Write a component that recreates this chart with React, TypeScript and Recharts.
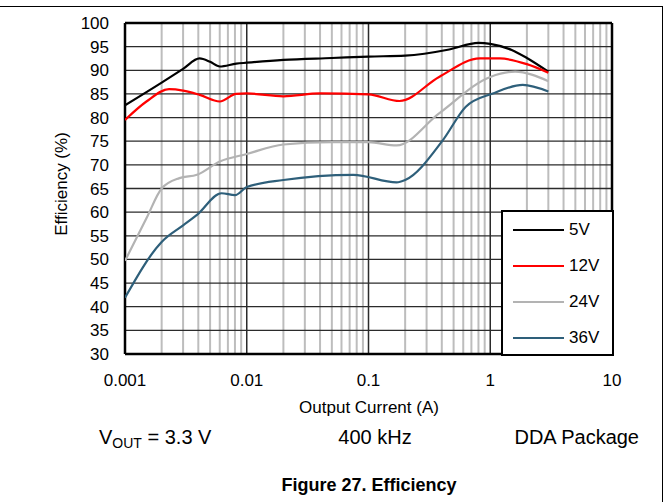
import { LineChart, Line, XAxis, YAxis, ReferenceLine } from "recharts";

const FONT = '"Liberation Sans", Arial, Helvetica, sans-serif';

// output current (A) vs efficiency (%) per input voltage
const v5 = [
  { i: 0.001, e: 82.6 },
  { i: 0.002, e: 87.4 },
  { i: 0.003, e: 90.3 },
  { i: 0.0041, e: 92.5 },
  { i: 0.005, e: 91.8 },
  { i: 0.006, e: 90.8 },
  { i: 0.0082, e: 91.4 },
  { i: 0.01, e: 91.6 },
  { i: 0.02, e: 92.2 },
  { i: 0.05, e: 92.6 },
  { i: 0.1, e: 92.9 },
  { i: 0.2, e: 93.1 },
  { i: 0.46, e: 94.4 },
  { i: 0.8, e: 95.8 },
  { i: 1.0, e: 95.6 },
  { i: 1.5, e: 94.3 },
  { i: 2.0, e: 92.6 },
  { i: 3.0, e: 89.7 },
];

const v12 = [
  { i: 0.001, e: 79.5 },
  { i: 0.0015, e: 83.4 },
  { i: 0.0023, e: 86.0 },
  { i: 0.003, e: 85.7 },
  { i: 0.0041, e: 84.8 },
  { i: 0.006, e: 83.4 },
  { i: 0.0082, e: 85.0 },
  { i: 0.01, e: 85.1 },
  { i: 0.02, e: 84.5 },
  { i: 0.04, e: 85.1 },
  { i: 0.1, e: 84.9 },
  { i: 0.18, e: 83.5 },
  { i: 0.38, e: 88.6 },
  { i: 0.82, e: 92.5 },
  { i: 1.2, e: 92.5 },
  { i: 2.0, e: 91.3 },
  { i: 3.0, e: 89.5 },
];

const v24 = [
  { i: 0.001, e: 49.7 },
  { i: 0.0015, e: 58.7 },
  { i: 0.002, e: 65.0 },
  { i: 0.0028, e: 67.2 },
  { i: 0.0039, e: 67.9 },
  { i: 0.006, e: 70.7 },
  { i: 0.01, e: 72.3 },
  { i: 0.02, e: 74.3 },
  { i: 0.05, e: 74.8 },
  { i: 0.1, e: 74.8 },
  { i: 0.17, e: 74.1 },
  { i: 0.38, e: 80.9 },
  { i: 1.0, e: 88.6 },
  { i: 1.6, e: 89.7 },
  { i: 3.0, e: 87.7 },
];

const v36 = [
  { i: 0.001, e: 41.9 },
  { i: 0.002, e: 53.7 },
  { i: 0.003, e: 57.2 },
  { i: 0.0039, e: 59.4 },
  { i: 0.0062, e: 64.0 },
  { i: 0.008, e: 63.6 },
  { i: 0.01, e: 65.3 },
  { i: 0.02, e: 66.8 },
  { i: 0.075, e: 67.9 },
  { i: 0.17, e: 66.3 },
  { i: 0.2, e: 66.8 },
  { i: 0.41, e: 75.3 },
  { i: 0.63, e: 82.3 },
  { i: 1.05, e: 85.1 },
  { i: 1.85, e: 86.9 },
  { i: 3.0, e: 85.5 },
];

const series = [
  { name: "5V", data: v5, color: "#000000" },
  { name: "12V", data: v12, color: "#ff0000" },
  { name: "24V", data: v24, color: "#b3b3b3" },
  { name: "36V", data: v36, color: "#2e5f7a" },
];

const xTicks = [0.001, 0.01, 0.1, 1, 10];
const yTicks = [30, 35, 40, 45, 50, 55, 60, 65, 70, 75, 80, 85, 90, 95, 100];
const minorSteps = [2, 3, 4, 5, 6, 7, 8, 9];
const minorX = xTicks.slice(0, 4).flatMap((d) => minorSteps.map((m) => +(d * m).toPrecision(3)));

const abs = (left: number, top: number, extra: any = {}) => ({
  position: "absolute" as const,
  left,
  top,
  fontFamily: FONT,
  color: "#000",
  whiteSpace: "nowrap" as const,
  ...extra,
});

export default function App() {
  return (
    <div style={{ position: "absolute", left: 0, top: 0, width: 669, height: 502, background: "#fff", overflow: "hidden" }}>
      <div
        style={{
          position: "absolute",
          left: -2,
          top: 6,
          width: 664,
          height: 500,
          borderTop: "1px solid #000",
          borderRight: "1.5px solid #000",
        }}
      />
      <div style={{ position: "absolute", left: 0, top: 0 }}>
        <LineChart width={669} height={400} margin={{ top: 23, right: 57, bottom: 16, left: 0 }}>
          <XAxis
            dataKey="i"
            type="number"
            scale="log"
            domain={[0.001, 10]}
            ticks={xTicks}
            interval={0}
            allowDataOverflow
            tickLine={false}
            axisLine={false}
            tickSize={0}
            tickMargin={20}
            height={30}
            tick={{ fill: "#000", fontSize: 17, fontFamily: FONT }}
            tickFormatter={(v: number) => String(v)}
          />
          <YAxis
            type="number"
            domain={[30, 100]}
            ticks={yTicks}
            interval={0}
            width={125}
            tickLine={false}
            axisLine={false}
            tickSize={0}
            tickMargin={16}
            tick={{ fill: "#000", fontSize: 17, fontFamily: FONT }}
          />
          {minorX.map((v) => (
            <ReferenceLine key={"m" + v} x={v} stroke="#bdbdbd" strokeWidth={2} />
          ))}
          {yTicks.map((v) => (
            <ReferenceLine key={"h" + v} y={v} stroke="#2b2b2b" strokeWidth={1.3} />
          ))}
          {xTicks.map((v) => (
            <ReferenceLine key={"v" + v} x={v} stroke="#2b2b2b" strokeWidth={1.5} />
          ))}
          <ReferenceLine y={100} stroke="#000" strokeWidth={2.5} />
          <ReferenceLine y={30} stroke="#000" strokeWidth={2.5} />
          <ReferenceLine x={0.001} stroke="#000" strokeWidth={2.5} />
          <ReferenceLine x={10} stroke="#000" strokeWidth={2.5} />
          {series.map((s) => (
            <Line
              key={s.name}
              data={s.data}
              dataKey="e"
              name={s.name}
              type="monotone"
              stroke={s.color}
              strokeWidth={2.2}
              dot={false}
              isAnimationActive={false}
            />
          ))}
        </LineChart>
      </div>

      {/* legend box */}
      <div
        style={{
          position: "absolute",
          left: 501,
          top: 210,
          width: 109,
          height: 142,
          background: "#fff",
          border: "2px solid #000",
        }}
      >
        {series.map((s, k) => (
          <div key={s.name} style={abs(10, 8 + k * 36, { height: 20, width: 100 })}>
            <div style={{ position: "absolute", left: 0, top: 9, width: 51, height: 2.2, background: s.color }} />
            <div style={{ position: "absolute", left: 56, top: 0, fontSize: 17, lineHeight: "20px" }}>{s.name}</div>
          </div>
        ))}
      </div>

      <div
        style={abs(-38, 174, {
          width: 200,
          height: 20,
          lineHeight: "20px",
          textAlign: "center",
          fontSize: 17,
          transform: "rotate(-90deg)",
        })}
      >
        Efficiency (%)
      </div>
      <div style={abs(219, 397, { width: 300, textAlign: "center", fontSize: 17, lineHeight: "22px" })}>
        Output Current (A)
      </div>
      <div style={abs(99, 424, { fontSize: 20, lineHeight: "26px" })}>
        V<sub style={{ fontSize: 14, verticalAlign: "-4px" }}>OUT</sub> = 3.3 V
      </div>
      <div style={abs(275, 424, { width: 200, textAlign: "center", fontSize: 20, lineHeight: "26px" })}>400 kHz</div>
      <div style={abs(440, 424, { width: 199, textAlign: "right", fontSize: 20, lineHeight: "26px" })}>DDA Package</div>
      <div style={abs(219, 472, { width: 300, textAlign: "center", fontSize: 18, fontWeight: "bold", lineHeight: "26px" })}>
        Figure 27. Efficiency
      </div>
    </div>
  );
}
